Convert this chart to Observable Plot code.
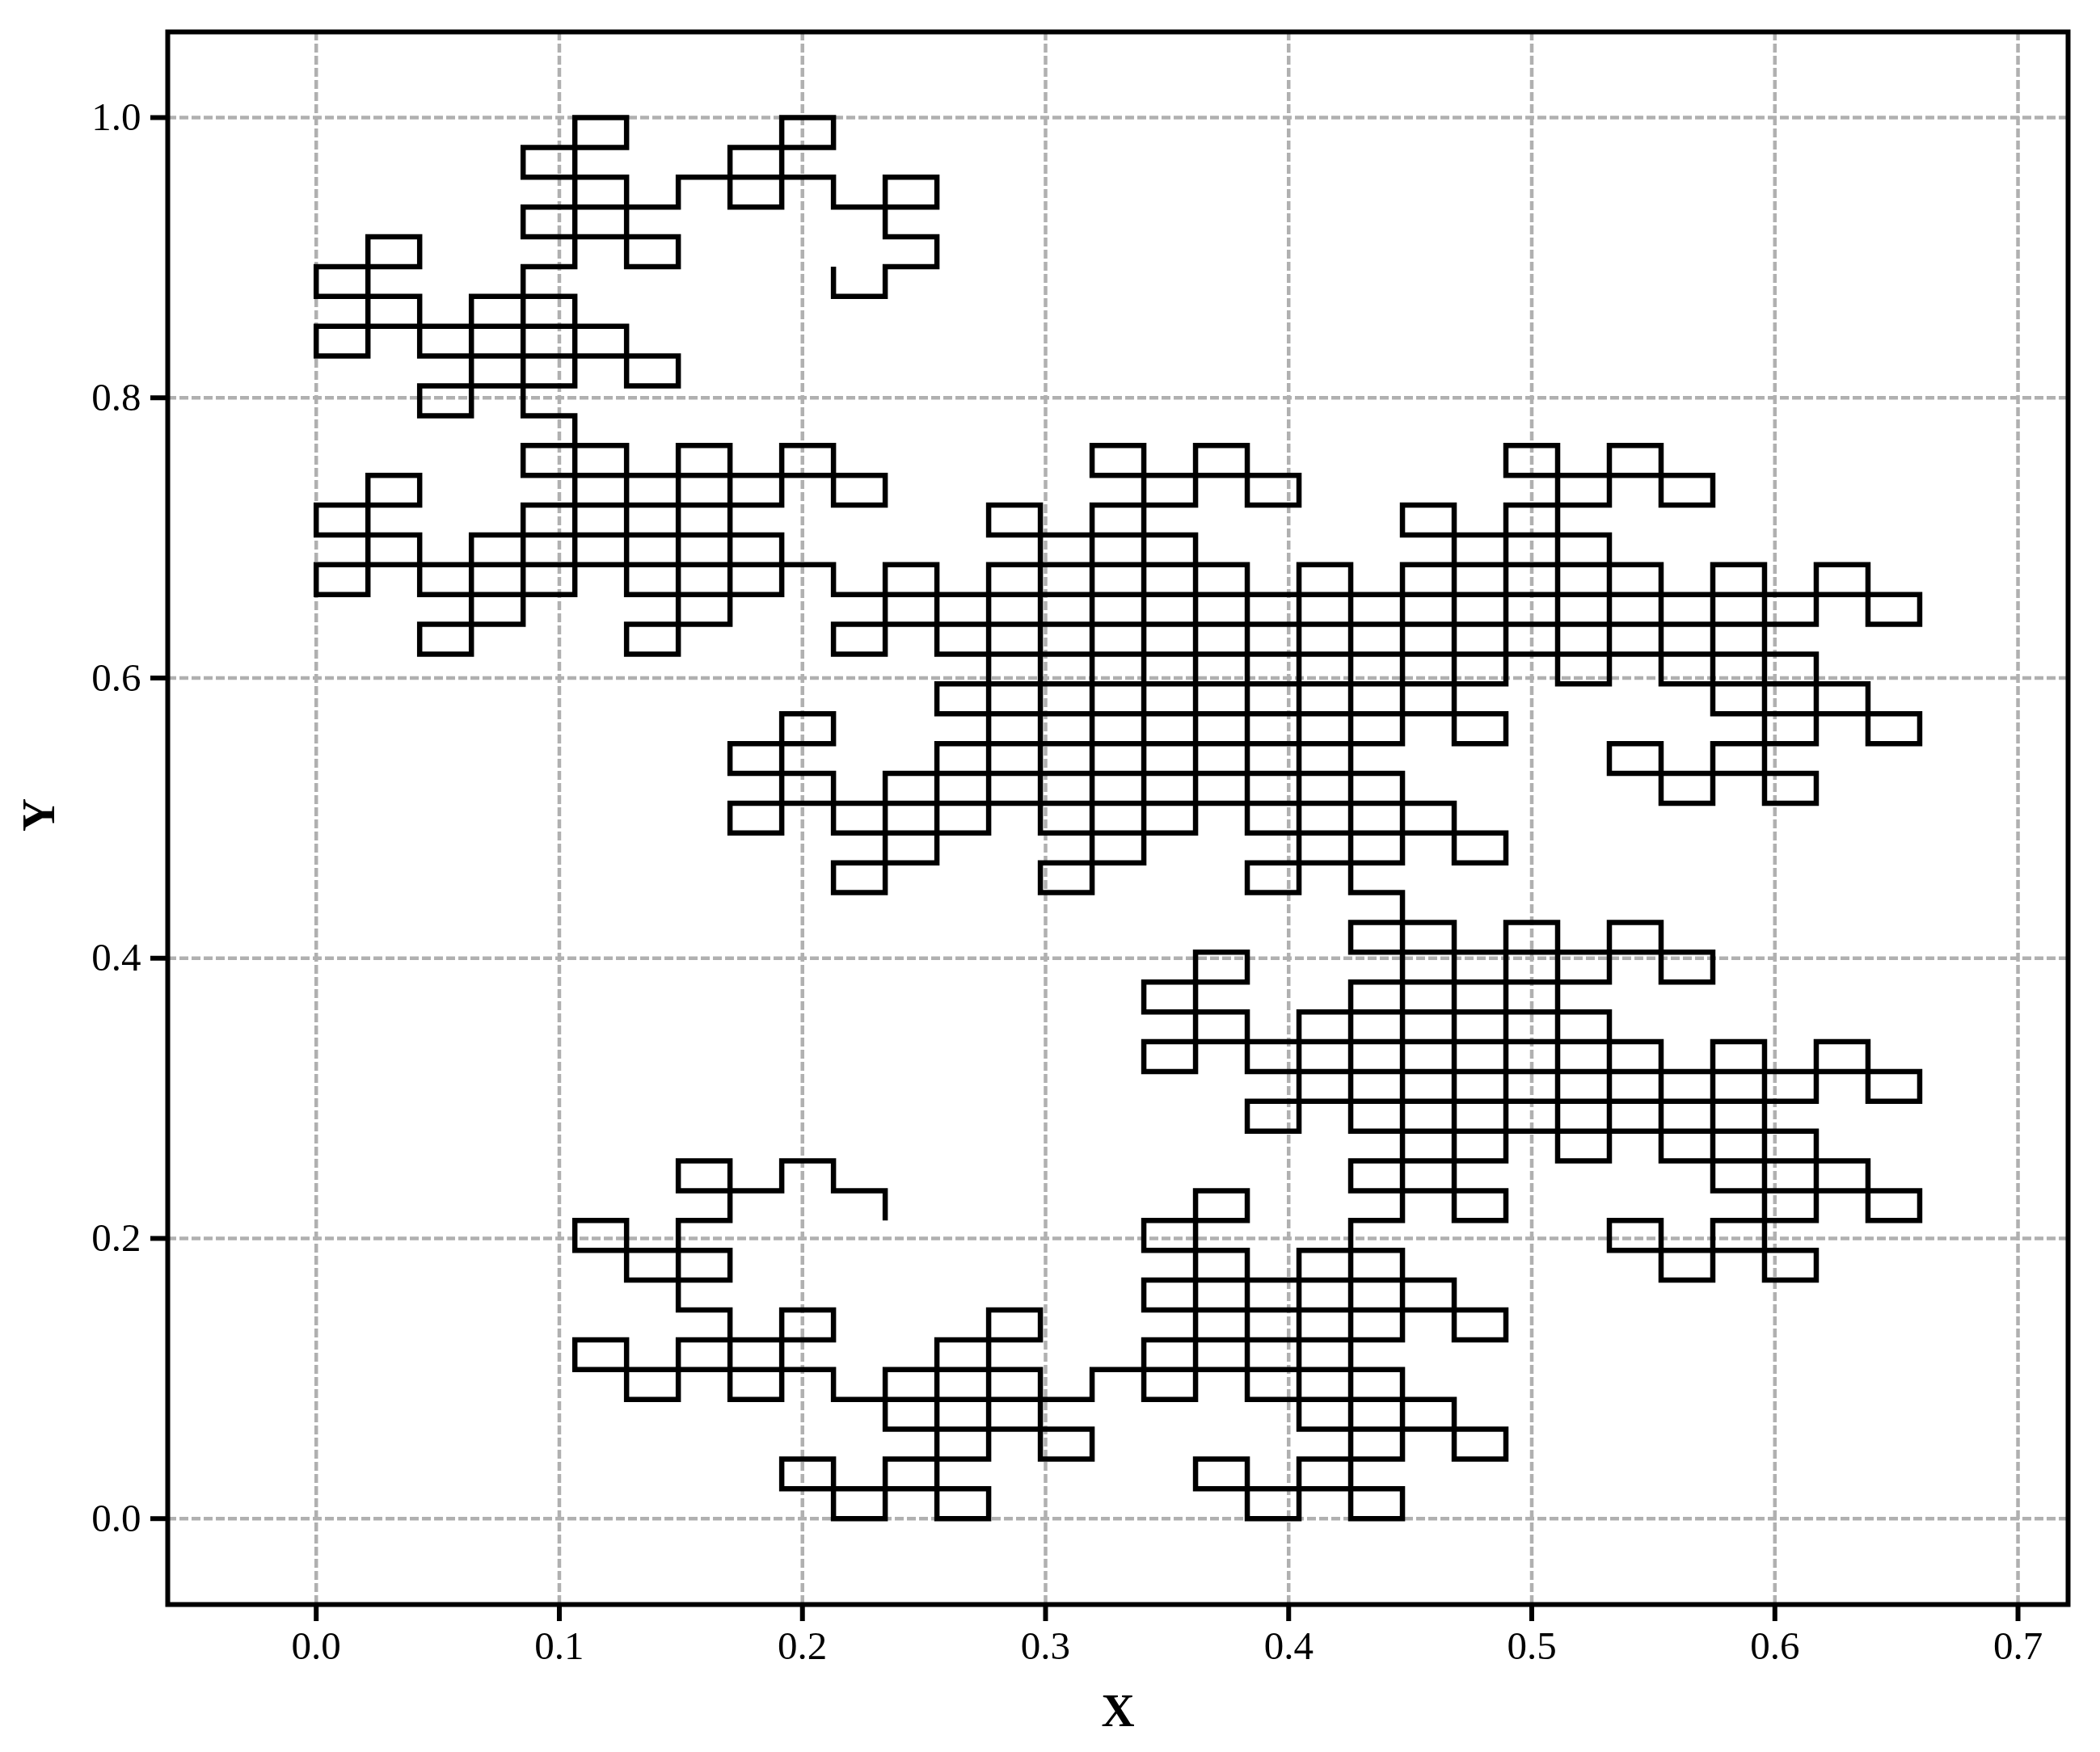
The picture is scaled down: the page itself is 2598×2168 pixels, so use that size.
<!DOCTYPE html>
<html>
<head>
<meta charset="utf-8">
<script src="https://cdn.jsdelivr.net/npm/d3@7"></script>
<script src="https://cdn.jsdelivr.net/npm/@observablehq/plot@0.6"></script>
<style>html,body{margin:0;padding:0;background:#fff}svg{display:block}</style>
</head>
<body>
<div id="chart"></div>
<script>
const gridStep = 1 / 47;
const xTicks = [0, 0.1, 0.2, 0.3, 0.4, 0.5, 0.6, 0.7];
const yTicks = [0, 0.2, 0.4, 0.6, 0.8, 1.0];
const pathStart = [11, 10];
// horizontal runs: [row, [from col, to col], ...]
const horizontalRuns = [
 [47,[5,6],[9,10]],
 [46,[4,6],[8,10]],
 [45,[4,6],[7,10],[11,12]],
 [44,[4,7],[8,9],[10,12]],
 [43,[1,2],[4,7],[11,12]],
 [42,[0,2],[4,5],[6,7],[11,12]],
 [41,[0,2],[3,5],[10,11]],
 [40,[0,6]],
 [39,[0,1],[2,7]],
 [38,[2,5],[6,7]],
 [37,[2,3],[4,5]],
 [36,[4,6],[7,8],[9,10],[15,16],[17,18],[23,24],[25,26]],
 [35,[1,2],[4,11],[15,19],[23,27]],
 [34,[0,2],[4,9],[10,11],[13,14],[15,17],[18,19],[21,22],[23,25],[26,27]],
 [33,[0,2],[3,9],[13,17],[21,25]],
 [32,[0,10],[11,12],[13,18],[19,20],[21,26],[27,28],[29,30]],
 [31,[0,1],[2,5],[6,9],[10,31]],
 [30,[2,4],[6,8],[10,29],[30,31]],
 [29,[2,3],[6,7],[10,11],[12,29]],
 [28,[12,23],[24,25],[26,30]],
 [27,[9,10],[12,23],[27,31]],
 [26,[8,10],[12,21],[22,23],[25,26],[27,29],[30,31]],
 [25,[8,10],[11,21],[25,29]],
 [24,[8,22],[26,27],[28,29]],
 [23,[8,9],[10,13],[14,17],[18,23]],
 [22,[10,12],[14,16],[18,21],[22,23]],
 [21,[10,11],[14,15],[18,19],[20,21]],
 [20,[20,22],[23,24],[25,26]],
 [19,[17,18],[20,27]],
 [18,[16,18],[20,25],[26,27]],
 [17,[16,18],[19,25]],
 [16,[16,26],[27,28],[29,30]],
 [15,[16,17],[18,31]],
 [14,[18,29],[30,31]],
 [13,[18,19],[20,29]],
 [12,[7,8],[9,10],[20,23],[24,25],[26,30]],
 [11,[7,9],[10,11],[17,18],[20,23],[27,31]],
 [10,[5,6],[7,8],[16,18],[20,21],[22,23],[25,26],[27,29],[30,31]],
 [9,[5,8],[16,18],[19,21],[25,29]],
 [8,[6,8],[16,22],[26,27],[28,29]],
 [7,[7,8],[9,10],[13,14],[16,23]],
 [6,[5,6],[7,10],[12,14],[16,21],[22,23]],
 [5,[5,10],[11,14],[15,21]],
 [4,[6,7],[8,9],[10,15],[16,17],[18,22]],
 [3,[11,15],[19,23]],
 [2,[9,10],[11,13],[14,15],[17,18],[19,21],[22,23]],
 [1,[9,13],[17,21]],
 [0,[10,11],[12,13],[18,19],[20,21]]
];
// vertical runs: [col, [from row, to row], ...]
const verticalRuns = [
 [0,[41,42],[39,40],[33,34],[31,32]],
 [1,[39,43],[31,35]],
 [2,[42,43],[39,41],[37,38],[34,35],[31,33],[29,30]],
 [3,[37,41],[29,33]],
 [4,[45,46],[43,44],[37,42],[35,36],[30,34]],
 [5,[42,47],[38,41],[31,37],[9,10],[5,6]],
 [6,[46,47],[42,45],[38,40],[31,36],[29,30],[8,10],[4,6]],
 [7,[44,45],[42,43],[38,39],[29,36],[11,12],[7,10],[4,6]],
 [8,[44,46],[30,36],[25,26],[23,24],[10,12],[8,9],[4,7]],
 [9,[44,47],[34,36],[31,33],[23,27],[11,12],[4,7],[1,2]],
 [10,[46,47],[44,45],[41,42],[34,36],[31,32],[29,30],[26,27],[23,25],[21,22],[11,12],[6,7],[4,5],[0,2]],
 [11,[43,45],[41,42],[34,35],[29,32],[21,25],[10,11],[3,5],[0,2]],
 [12,[44,45],[42,43],[29,32],[27,28],[22,26],[0,6]],
 [13,[33,34],[23,32],[2,7],[0,1]],
 [14,[23,34],[21,22],[6,7],[2,5]],
 [15,[35,36],[21,34],[4,5],[2,3]],
 [16,[22,36],[17,18],[15,16],[9,10],[7,8],[4,6]],
 [17,[34,36],[23,33],[15,19],[4,11],[1,2]],
 [18,[34,36],[23,32],[21,22],[18,19],[15,17],[13,14],[10,11],[4,9],[0,2]],
 [19,[34,35],[21,32],[13,17],[3,9],[0,2]],
 [20,[21,32],[19,20],[13,18],[11,12],[0,10]],
 [21,[33,34],[26,32],[22,25],[10,21],[6,9],[2,5],[0,1]],
 [22,[26,34],[22,24],[10,20],[6,8],[2,4]],
 [23,[35,36],[28,34],[26,27],[22,23],[12,20],[10,11],[6,7],[2,3]],
 [24,[28,36],[12,20]],
 [25,[34,36],[28,33],[25,26],[18,20],[12,17],[9,10]],
 [26,[34,36],[28,32],[24,26],[18,20],[12,16],[8,10]],
 [27,[34,35],[27,32],[24,26],[18,19],[11,16],[8,10]],
 [28,[24,32],[8,16]],
 [29,[30,32],[26,29],[24,25],[14,16],[10,13],[8,9]],
 [30,[30,32],[26,28],[14,16],[10,12]],
 [31,[30,31],[26,27],[14,15],[10,11]]
];

// Join the read-off runs into one continuous stroke
const adj = new Map();
const key = (i, j) => i + "," + j;
function addEdge(a, b) {
  const ka = key(...a), kb = key(...b);
  if (!adj.has(ka)) adj.set(ka, []);
  if (!adj.has(kb)) adj.set(kb, []);
  adj.get(ka).push(b); adj.get(kb).push(a);
}
for (const [j, ...runs] of horizontalRuns) for (const [a, b] of runs)
  for (let i = a; i < b; i++) addEdge([i, j], [i + 1, j]);
for (const [i, ...runs] of verticalRuns) for (const [a, b] of runs)
  for (let j = a; j < b; j++) addEdge([i, j], [i, j + 1]);
const walk = [];
const stack = [pathStart];
while (stack.length) {
  const v = stack[stack.length - 1];
  const n = adj.get(key(...v));
  if (n && n.length) {
    const w = n.pop();
    const back = adj.get(key(...w));
    back.splice(back.findIndex(p => p[0] === v[0] && p[1] === v[1]), 1);
    stack.push(w);
  } else walk.push(stack.pop());
}

const serif = "'Liberation Serif', serif";
const chart = Plot.plot({
  width: 2598, height: 2168,
  marginLeft: 207, marginRight: 40, marginTop: 39, marginBottom: 183,
  style: {background: "#fff", color: "#000"},
  x: {domain: [-0.06108, 0.7206], label: null},
  y: {domain: [-0.0613, 1.06114], label: null},
  marks: [
    Plot.gridX(xTicks, {stroke: "#b0b0b0", strokeOpacity: 1, strokeWidth: 4.5, strokeDasharray: "11,4"}),
    Plot.gridY(yTicks, {stroke: "#b0b0b0", strokeOpacity: 1, strokeWidth: 4.5, strokeDasharray: "11,4"}),
    Plot.line(walk, {x: d => d[0] * gridStep, y: d => d[1] * gridStep, stroke: "#000", strokeWidth: 6.5,
      strokeLinecap: "butt", strokeLinejoin: "miter", strokeMiterlimit: 4}),
    Plot.frame({stroke: "#000", strokeWidth: 6}),
    Plot.axisX({ticks: xTicks, tickSize: 21, tickPadding: 12, tickFormat: ".1f", fontSize: 49, fontFamily: serif,
      strokeWidth: 6, label: null}),
    Plot.axisY({ticks: yTicks, tickSize: 21, tickPadding: 12, tickFormat: ".1f", fontSize: 49, fontFamily: serif,
      strokeWidth: 6, label: null}),
    Plot.text(["X"], {frameAnchor: "bottom", dy: 150, fontSize: 57, fontWeight: "bold", fontFamily: serif, fill: "#000"}),
    Plot.text(["Y"], {frameAnchor: "left", textAnchor: "middle", dx: -159, dy: -4, rotate: -90, fontSize: 57, fontWeight: "bold", fontFamily: serif, fill: "#000"})
  ]
});
document.getElementById("chart").appendChild(chart);
</script>
</body>
</html>
